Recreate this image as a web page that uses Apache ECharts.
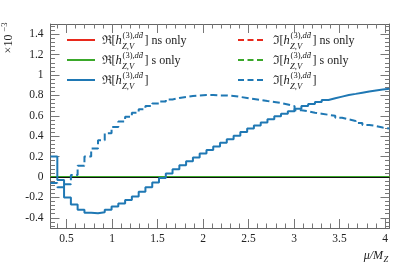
<!DOCTYPE html>
<html><head><meta charset="utf-8">
<script src="https://cdn.jsdelivr.net/npm/echarts@6/dist/echarts.min.js"></script>
<style>html,body{margin:0;padding:0;background:#fff}#c{width:405px;height:263px}</style>
</head><body><div id="c"></div>
<script>
// ---- data ----
const binEdges = [0.324, 0.399, 0.473, 0.548, 0.622, 0.697, 0.771, 0.846, 0.920, 0.995,
  1.069, 1.144, 1.218, 1.293, 1.367, 1.442, 1.516, 1.591, 1.665, 1.740,
  1.814, 1.889, 1.963, 2.038, 2.112, 2.187, 2.261, 2.336, 2.410, 2.485,
  2.559, 2.634, 2.708, 2.783, 2.857, 2.932, 3.006, 3.081, 3.155, 3.230,
  3.304, 3.379, 3.453, 3.528, 3.602, 3.677, 3.751, 3.826, 3.900, 3.975, 4.049];
const reTotal = [0.20, -0.03, -0.20, -0.27, -0.32, -0.35, -0.355, -0.345, -0.32, -0.29,
  -0.26, -0.225, -0.19, -0.145, -0.10, -0.055, -0.01, 0.035, 0.075, 0.115,
  0.155, 0.19, 0.23, 0.265, 0.30, 0.335, 0.37, 0.405, 0.44, 0.475,
  0.505, 0.535, 0.565, 0.595, 0.62, 0.645, 0.67, 0.695, 0.715, 0.735,
  0.755, 0.772, 0.788, 0.803, 0.815, 0.827, 0.838, 0.848, 0.857, 0.866];
const imTotal = [-0.06, -0.10, -0.07, 0.02, 0.11, 0.20, 0.28, 0.36, 0.43, 0.49,
  0.545, 0.59, 0.63, 0.665, 0.695, 0.72, 0.74, 0.76, 0.775, 0.785,
  0.795, 0.80, 0.805, 0.805, 0.80, 0.80, 0.795, 0.785, 0.775, 0.765,
  0.755, 0.745, 0.735, 0.725, 0.71, 0.695, 0.655, 0.645, 0.63, 0.62,
  0.61, 0.60, 0.58, 0.565, 0.55, 0.53, 0.51, 0.50, 0.485, 0.475];
const reNsOnly = [0,0,0,0,0,0,0,0,0,0, 0,0,0,0,0,0,0,0,0,0, 0,0,0,0,0,0,0,0,0,0, 0,0,0,0,0,0,0,0,0,0, 0,0,0,0,0,0,0,0,0,0];
const imNsOnly = [0,0,0,0,0,0,0,0,0,0, 0,0,0,0,0,0,0,0,0,0, 0,0,0,0,0,0,0,0,0,0, 0,0,0,0,0,0,0,0,0,0, 0,0,0,0,0,0,0,0,0,0];
const reSOnly  = [0,0,0,0,0,0,0,0,0,0, 0,0,0,0,0,0,0,0,0,0, 0,0,0,0,0,0,0,0,0,0, 0,0,0,0,0,0,0,0,0,0, 0,0,0,0,0,0,0,0,0,0];
const imSOnly  = [0,0,0,0,0,0,0,0,0,0, 0,0,0,0,0,0,0,0,0,0, 0,0,0,0,0,0,0,0,0,0, 0,0,0,0,0,0,0,0,0,0, 0,0,0,0,0,0,0,0,0,0];
const xMajorTicks = [0.5, 1, 1.5, 2, 2.5, 3, 3.5, 4];
const yMajorTicks = [-0.4, -0.2, 0, 0.2, 0.4, 0.6, 0.8, 1, 1.2, 1.4];
const legendSuffix = [' ns only', ' s only', ''];
const xTitle = ['μ/M', 'Z'];
const yScaleText = ['×10', '−3'];

// ---- styling ----
const X_MIN = 0.324, X_MAX = 4.049, Y_MIN = -0.5, Y_MAX = 1.5;
const RED = '#e8291c', GREEN = '#3aa82a', BLUE = '#1f78b4';
const FRAME = '#666', TICK = '#777', LABEL = '#222';
const SERIF = '"Liberation Serif", "DejaVu Serif", serif';
const DASH = [7, 3.5];

const xMinor = []; for (let k = 4; k <= 40; k++) xMinor.push(+(k / 10).toFixed(2));
const yMinor = []; for (let k = -12; k <= 37; k++) yMinor.push(+(k * 0.04).toFixed(2));

function steps(vals) {
  const d = vals.map((v, i) => [binEdges[i], v]);
  d.push([binEdges[vals.length], vals[vals.length - 1]]);
  return d;
}

function xAx(pos, ticks, len, line, label) {
  return {type: 'value', min: X_MIN, max: X_MAX, position: pos,
    axisLine: {show: line, onZero: false, lineStyle: {color: FRAME, width: 1}},
    axisTick: {show: true, inside: true, length: len, customValues: ticks, lineStyle: {color: TICK, width: 1}},
    axisLabel: label ? {show: true, customValues: xMajorTicks, margin: 5, color: LABEL, fontFamily: SERIF, fontSize: 11.5} : {show: false},
    splitLine: {show: false}};
}
function yAx(pos, ticks, len, line, label) {
  return {type: 'value', min: Y_MIN, max: Y_MAX, position: pos,
    axisLine: {show: line, onZero: false, lineStyle: {color: FRAME, width: 1}},
    axisTick: {show: true, inside: true, length: len, customValues: ticks, lineStyle: {color: TICK, width: 1}},
    axisLabel: label ? {show: true, customValues: yMajorTicks, margin: 7, color: LABEL, fontFamily: SERIF, fontSize: 11.5} : {show: false},
    splitLine: {show: false}};
}

function ser(name, vals, color, dashed, width, z) {
  return {name, type: 'line', step: 'end', data: steps(vals), xAxisIndex: 0, yAxisIndex: 0,
    symbol: 'none', showSymbol: false, z: z,
    lineStyle: {color, width, type: dashed ? DASH : 'solid'}};
}

// ---- legend (graphic) ----
const cv = document.createElement('canvas').getContext('2d');
function tw(t, f) { cv.font = f; return cv.measureText(t).width; }
const F = '12px ' + SERIF, FI = 'italic 12.5px ' + SERIF, FS = '8.5px ' + SERIF, FSI = 'italic 8.5px ' + SERIF;
function txt(x, y, t, font, extra) {
  return Object.assign({type: 'text', x, y, style: {text: t, font, fill: LABEL, textAlign: 'left', align: 'left', textVerticalAlign: 'middle', verticalAlign: 'middle'}}, extra || {});
}
const graphics = [];
const cols = [{lx: 67, tx: 101.5, pre: 'ℜ', dash: false}, {lx: 238, tx: 272.5, pre: 'ℑ', dash: true}];
const rowsY = [40, 60, 80];
const rowColors = [RED, GREEN, BLUE];
cols.forEach(c => {
  rowsY.forEach((y, r) => {
    graphics.push({type: 'line', shape: {x1: c.lx, y1: y, x2: c.lx + 28, y2: y},
      style: {stroke: rowColors[r], lineWidth: 2, lineDash: c.dash ? [6, 3.5] : null}});
    let x = c.tx;
    graphics.push(txt(x, y + 1, c.pre + '[', F));
    x += tw(c.pre + '[', F);
    graphics.push(txt(x, y + 1, 'h', FI));
    x += tw('h', FI) + 0.3;
    const supA = '(3),', supB = 'dd̄';
    graphics.push(txt(x + 0.5, y - 4, supA, FS));
    graphics.push(txt(x + 0.5 + tw(supA, FS), y - 4, supB, FSI));
    graphics.push(txt(x, y + 6.5, 'Z,V', FSI));
    const w = Math.max(tw(supA, FS) + tw(supB, FSI) + 0.5, tw('Z,V', FSI));
    x += w + 1.5;
    graphics.push(txt(x, y + 1, ']' + legendSuffix[r], F));
  });
});
// x10^-3 rotated
graphics.push({type: 'text', x: 9, y: 44, rotation: Math.PI / 2,
  style: {text: yScaleText[0], font: '12px ' + SERIF, fill: LABEL, textAlign: 'center', align: 'center', textVerticalAlign: 'middle', verticalAlign: 'middle'}});
graphics.push({type: 'text', x: 4.5, y: 27, rotation: Math.PI / 2,
  style: {text: yScaleText[1], font: '8.5px ' + SERIF, fill: LABEL, textAlign: 'center', align: 'center', textVerticalAlign: 'middle', verticalAlign: 'middle'}});
// x axis title
graphics.push({type: 'text', x: 383, y: 256,
  style: {text: xTitle[0], font: 'italic 12px ' + SERIF, fill: LABEL, textAlign: 'right', align: 'right', textVerticalAlign: 'middle', verticalAlign: 'middle'}});
graphics.push({type: 'text', x: 383.5, y: 259.5,
  style: {text: xTitle[1], font: 'italic 8.5px ' + SERIF, fill: LABEL, textAlign: 'left', align: 'left', textVerticalAlign: 'middle', verticalAlign: 'middle'}});

const chart = echarts.init(document.getElementById('c'), null, {renderer: 'canvas'});
const gs = ser('ImS', imSOnly, GREEN, true, 2, 4);
gs.markLine = {silent: true, symbol: 'none', label: {show: false},
  lineStyle: {color: '#111', width: 1, type: 'solid'}, data: [{yAxis: 0}]};
chart.setOption({
  animation: false,
  backgroundColor: '#fff',
  grid: {left: 50.5, right: 15.5, top: 24, bottom: 35, containLabel: false},
  xAxis: [xAx('bottom', xMajorTicks, 9, true, true), xAx('bottom', xMinor, 4.5, false, false),
          xAx('top', xMajorTicks, 9, true, false), xAx('top', xMinor, 4.5, false, false)],
  yAxis: [yAx('left', yMajorTicks, 9, true, true), yAx('left', yMinor, 4.5, false, false),
          yAx('right', yMajorTicks, 9, true, false), yAx('right', yMinor, 4.5, false, false)],
  series: [
    ser('ReNs', reNsOnly, RED, false, 2, 2),
    ser('ImNs', imNsOnly, RED, true, 2, 2),
    ser('ReS', reSOnly, GREEN, false, 2, 3),
    gs,
    ser('ReTot', reTotal, BLUE, false, 2, 5),
    ser('ImTot', imTotal, BLUE, true, 2, 5)
  ],
  graphic: graphics
});
</script></body></html>
